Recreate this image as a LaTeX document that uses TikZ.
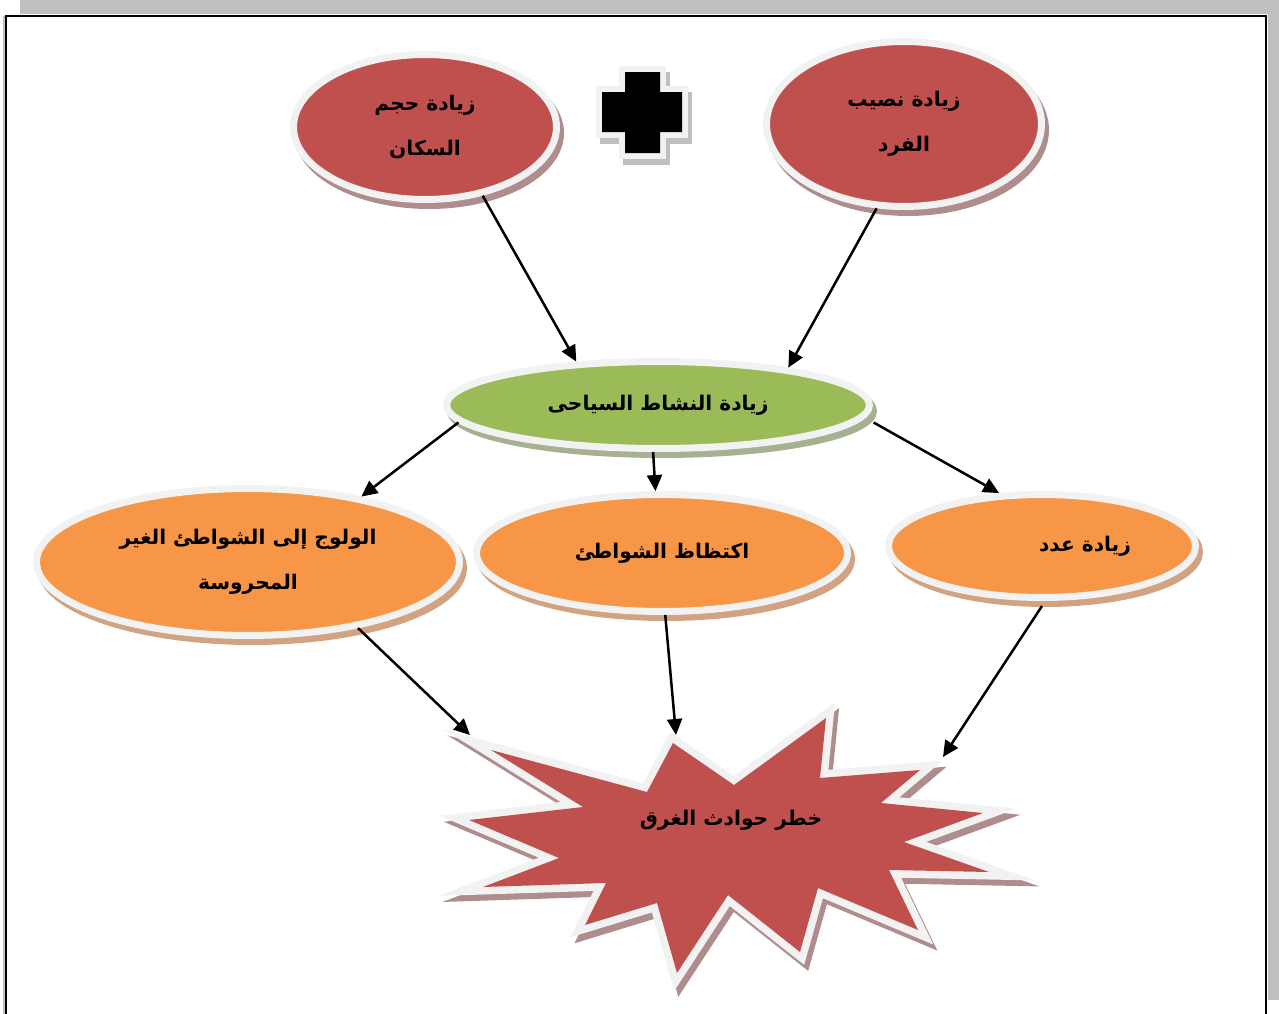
\documentclass[tikz,border=0pt]{standalone}
\usepackage{fontspec}
\usepackage{xcolor}
\usepackage{tikz}
\usetikzlibrary{arrows.meta,shapes.geometric,shadows}
\TeXXeTstate=1
\newfontfamily\arabicfont[Script=Arabic]{DejaVu Sans}

\definecolor{dangerred}{HTML}{C0504D}
\definecolor{redshade}{HTML}{B08D8D}
\definecolor{sandorange}{HTML}{F79646}
\definecolor{sandshade}{HTML}{D2A383}
\definecolor{leafgreen}{HTML}{9BBB59}
\definecolor{leafshade}{HTML}{A5B190}
\definecolor{rim}{HTML}{F2F2F2}
\definecolor{pagegray}{HTML}{BFBFBF}

\tikzset{
  arlabel/.style={font=\arabicfont\bfseries\fontsize{11.5}{25.5}\selectfont, align=center},
  bubble/.style={ellipse, arlabel, draw=rim, line width=0.14cm, inner sep=0pt},
  redbubble/.style={bubble, fill=dangerred,
    drop shadow={shadow xshift=0.08cm, shadow yshift=-0.12cm, fill=redshade, draw=redshade, line width=0.14cm, opacity=1}},
  sandbubble/.style={bubble, fill=sandorange,
    drop shadow={shadow xshift=0.08cm, shadow yshift=-0.12cm, fill=sandshade, draw=sandshade, line width=0.14cm, opacity=1}},
  leafbubble/.style={bubble, fill=leafgreen,
    drop shadow={shadow xshift=0.08cm, shadow yshift=-0.12cm, fill=leafshade, draw=leafshade, line width=0.14cm, opacity=1}},
}

\begin{document}
\begin{tikzpicture}[x=0.02cm,y=-0.02cm]
		\useasboundingbox (0,0) rectangle (1279,1014);
		% page frame
		\fill[pagegray] (20,0) rectangle (1279,14);
		\fill[pagegray] (1268,0) rectangle (1279,1000);
		\draw[pagegray, line width=0.03cm] (4,16) -- (4,1014);
		\draw[line width=0.05cm] (6,1014) -- (6,16) -- (1266,16) -- (1266,1014);
		%
		\node[redbubble, minimum width=5.26cm, minimum height=2.9cm] (pop) at (425,127) {\beginR زيادة حجم\endR\\\beginR السكان\endR};
		\node[redbubble, minimum width=5.5cm, minimum height=3.3cm] (share) at (904,124) {\beginR زيادة نصيب\endR\\\beginR الفرد\endR};
		\node[leafbubble, minimum width=8.46cm, minimum height=1.74cm] (tour) at (658,405) {\beginR زيادة النشاط السياحى\endR};
		\node[sandbubble, minimum width=8.46cm, minimum height=2.94cm] (open) at (248,562) {\beginR الولوج إلى الشواطئ الغير\endR\\\beginR المحروسة\endR};
		\node[sandbubble, minimum width=7.42cm, minimum height=2.34cm] (crowd) at (662,553) {\beginR اكتظاظ الشواطئ\endR};
		\node[sandbubble, minimum width=6.14cm, minimum height=2.06cm] (num) at (1042,546) {\hspace*{1.72cm}\beginR زيادة عدد\endR};
		%
		% plus sign
		\path[fill=black, line join=miter,
		  preaction={draw=pagegray, fill=pagegray, line width=0.24cm, transform canvas={shift={(0.08cm,-0.12cm)}}},
		  preaction={draw=rim, line width=0.24cm}]
		(625,72) -- (660,72) -- (660,92) -- (682,92) -- (682,132) -- (660,132) -- (660,153)
		-- (625,153) -- (625,132) -- (602,132) -- (602,92) -- (625,92) -- cycle;
		%
		% drowning star
		\path[fill=dangerred, line join=miter,
		  preaction={draw=redshade, fill=redshade, line width=0.3cm, transform canvas={shift={(0.08cm,-0.12cm)}}},
		  preaction={draw=rim, line width=0.3cm}]
		(491,750) -- (647,792) -- (673,743) -- (734,785) -- (826,718) -- (820,778)
		-- (920,770) -- (881,803) -- (983,813) -- (904,842) -- (989,872) -- (889,870)
		-- (918,930) -- (818,888) -- (800,952) -- (728,895) -- (677,973) -- (657,903)
		-- (585,925) -- (606,883) -- (483,887) -- (559,858) -- (469,820) -- (583,807) -- cycle;
		\node[arlabel] (risk) at (731,820) {\beginR خطر حوادث الغرق\endR};
		\coordinate (riskL) at (470,735);
		\coordinate (riskM) at (676,735);
		\coordinate (riskR) at (943,757);
		%
		\path[->,>={Triangle[length=0.32cm,width=0.3cm]},line width=0.05cm]
		% top arrows
		(pop.-50) edge (tour.152)
		(share.-108) edge (tour.16)
		% middle arrows
		(tour.185) edge (open.30)
		(tour.-96) edge (crowd.96)
		([xshift=0.32cm]tour.-5) edge (num.129)
		% bottom arrows
		(open.-31) edge (riskL)
		(crowd.-87) edge (riskM)
		([yshift=-0.1cm]num.-90) edge (riskR);
\end{tikzpicture}
\end{document}
